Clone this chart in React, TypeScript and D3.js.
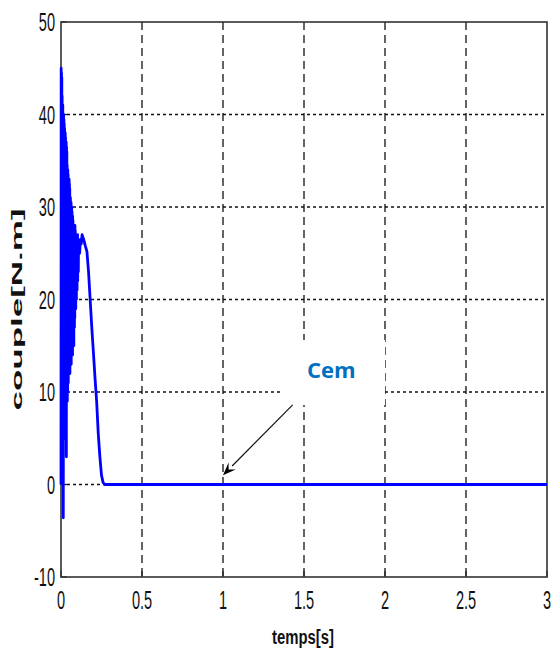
import React from "react";
import * as d3 from "d3";

// Electromagnetic torque response (Cem) over time, in seconds
const timeValues: number[] = [
  0, 0.001, 0.002, 0.003, 0.004, 0.005, 0.006, 0.007, 0.008, 0.009,
  0.01, 0.011, 0.012, 0.013, 0.014, 0.015, 0.016, 0.017, 0.018, 0.019,
  0.02, 0.021, 0.022, 0.023, 0.024, 0.025, 0.026, 0.027, 0.028, 0.029,
  0.03, 0.031, 0.032, 0.033, 0.034, 0.035, 0.036, 0.037, 0.038, 0.039,
  0.04, 0.041, 0.042, 0.043, 0.044, 0.045, 0.046, 0.047, 0.048, 0.049,
  0.05, 0.051, 0.052, 0.053, 0.054, 0.055, 0.056, 0.057, 0.058, 0.059,
  0.06, 0.061, 0.062, 0.063, 0.064, 0.065, 0.066, 0.067, 0.068, 0.069,
  0.07, 0.071, 0.072, 0.073, 0.074, 0.075, 0.076, 0.077, 0.078, 0.079,
  0.08, 0.081, 0.082, 0.083, 0.084, 0.085, 0.086, 0.087, 0.088, 0.089,
  0.09, 0.091, 0.092, 0.093, 0.094, 0.095, 0.096, 0.097, 0.098, 0.099,
  0.1, 0.101, 0.102, 0.103, 0.104, 0.105, 0.106, 0.107, 0.108, 0.109,
  0.11, 0.115, 0.12, 0.125, 0.13, 0.14, 0.15, 0.16, 0.17, 0.18,
  0.19, 0.2, 0.21, 0.22, 0.23, 0.24, 0.25, 0.26, 0.27, 0.5,
  1.0, 1.5, 2.0, 2.5, 3.0,
];
// Torque in N.m
const torqueValues: number[] = [
  0, 45, 10, 44.5, 2, 44, 6, 42, 8, 41,
  3, 41, 0, 30, -3.6, 12, 40, 9, 39.5, 11,
  39, 6, 38.5, 12, 38, 8, 38, 12, 37.5, 5,
  37, 10, 37, 3, 36.5, 9, 36, 11, 34.5, 9,
  34, 10, 34, 12, 33.5, 11, 33, 12, 33, 14,
  33, 12, 32.5, 14, 32, 12, 31, 15, 31, 13,
  30.5, 14, 30.5, 13, 30, 16, 30, 14, 29.5, 15,
  29, 14, 29, 17, 28.5, 16, 28, 17, 28, 15,
  28, 18, 27.5, 17, 27, 18, 28, 19, 27.5, 20,
  27, 19, 27, 21, 27, 20, 26.5, 22, 26.5, 21,
  26, 23, 27, 22, 26.5, 24, 26, 23, 26, 25,
  26, 25, 26.5, 26, 27, 26.5, 25.8, 25.2, 23, 20,
  17, 14.3, 11.5, 9, 5.5, 3, 1, 0.2, 0, 0,
  0, 0, 0, 0, 0,
];

const xTickValues: number[] = [0, 0.5, 1, 1.5, 2, 2.5, 3];
const xTickLabels: string[] = ["0", "0.5", "1", "1.5", "2", "2.5", "3"];
const yTickValues: number[] = [-10, 0, 10, 20, 30, 40, 50];
const yTickLabels: string[] = ["-10", "0", "10", "20", "30", "40", "50"];

const annotationText = "Cem";
const annotationTip: [number, number] = [1.0, 1.0];
const annotationTail: [number, number] = [1.43, 8.6];

const W = 553;
const H = 654;
const plot = { left: 61, right: 547, top: 22, bottom: 577 };

export default function App() {
  const x = d3.scaleLinear().domain([0, 3]).range([plot.left, plot.right]);
  const y = d3.scaleLinear().domain([-10, 50]).range([plot.bottom, plot.top]);

  const points: [number, number][] = timeValues.map((t, i) => [t, torqueValues[i]]);
  const line = d3
    .line<[number, number]>()
    .x((d) => x(d[0]))
    .y((d) => y(d[1]));

  const tickFont = "'Liberation Sans', Arial, sans-serif";

  // arrow geometry
  const tx = x(annotationTip[0]);
  const ty = y(annotationTip[1]);
  const sx = x(annotationTail[0]);
  const sy = y(annotationTail[1]);
  const ang = Math.atan2(ty - sy, tx - sx);
  const headLen = 13;
  const headHalf = 5;
  const bx = tx - headLen * Math.cos(ang);
  const by = ty - headLen * Math.sin(ang);
  const px = -Math.sin(ang);
  const py = Math.cos(ang);
  const head = `M${tx},${ty} L${bx + px * headHalf},${by + py * headHalf} L${tx - 8 * Math.cos(ang)},${ty - 8 * Math.sin(ang)} L${bx - px * headHalf},${by - py * headHalf} Z`;

  return (
    <svg
      width={W}
      height={H}
      style={{ position: "absolute", left: 0, top: 0, background: "#fff" }}
    >
      <rect x={0} y={0} width={W} height={H} fill="#fff" />

      {/* horizontal grid */}
      {yTickValues
        .filter((v) => v > -10 && v < 50)
        .map((v) => (
          <line
            key={"gy" + v}
            x1={plot.left}
            x2={plot.right}
            y1={y(v)}
            y2={y(v)}
            stroke="#111"
            strokeWidth={1.3}
            strokeDasharray="3,3"
          />
        ))}
      {/* vertical grid */}
      {xTickValues
        .filter((v) => v > 0 && v < 3)
        .map((v) => (
          <line
            key={"gx" + v}
            x1={x(v)}
            x2={x(v)}
            y1={plot.top}
            y2={plot.bottom}
            stroke="#111"
            strokeWidth={1.3}
            strokeDasharray="8,5"
          />
        ))}

      {/* inward ticks */}
      {xTickValues.map((v) => (
        <line
          key={"tx" + v}
          x1={x(v)}
          x2={x(v)}
          y1={plot.bottom}
          y2={plot.bottom - 6}
          stroke="#222"
          strokeWidth={1.3}
        />
      ))}
      {yTickValues.map((v) => (
        <line
          key={"ty" + v}
          x1={plot.left}
          x2={plot.left + 6}
          y1={y(v)}
          y2={y(v)}
          stroke="#222"
          strokeWidth={1.3}
        />
      ))}

      {/* axes box */}
      <rect
        x={plot.left}
        y={plot.top}
        width={plot.right - plot.left}
        height={plot.bottom - plot.top}
        fill="none"
        stroke="#333"
        strokeWidth={1.6}
      />

      {/* torque curve */}
      <path
        d={line(points) || ""}
        fill="none"
        stroke="#0000ff"
        strokeWidth={2.8}
        strokeLinejoin="round"
      />

      {/* annotation */}
      <rect x={282} y={340} width={103} height={65} fill="#fff" />
      <text
        x={307}
        y={378}
        fontFamily="'Open Sans', sans-serif"
        fontWeight={700}
        fontSize={22}
        fill="#0070c0"
      >
        {annotationText}
      </text>
      <line x1={sx} y1={sy} x2={bx} y2={by} stroke="#111" strokeWidth={1.2} />
      <path d={head} fill="#000" />

      {/* tick labels */}
      {yTickValues.map((v, i) => (
        <text
          key={"ly" + v}
          transform={`translate(55,${y(v) + 9.3}) scale(0.56,1)`}
          textAnchor="end"
          fontFamily={tickFont}
          fontSize={26}
          fill="#111"
        >
          {yTickLabels[i]}
        </text>
      ))}
      {xTickValues.map((v, i) => (
        <text
          key={"lx" + v}
          transform={`translate(${x(v)},609) scale(0.56,1)`}
          textAnchor="middle"
          fontFamily={tickFont}
          fontSize={26}
          fill="#111"
        >
          {xTickLabels[i]}
        </text>
      ))}

      {/* axis titles */}
      <text
        x={303}
        y={644}
        textAnchor="middle"
        fontFamily={tickFont}
        fontWeight={700}
        fontSize={20}
        fill="#111"
        textLength={62}
        lengthAdjust="spacingAndGlyphs"
      >
        temps[s]
      </text>
      <text
        transform={`translate(22,${(plot.top + plot.bottom) / 2 + 10}) rotate(-90)`}
        textAnchor="middle"
        fontFamily={tickFont}
        fontWeight={700}
        fontSize={15}
        fill="#111"
        textLength={202}
        lengthAdjust="spacingAndGlyphs"
      >
        couple[N.m]
      </text>
    </svg>
  );
}
